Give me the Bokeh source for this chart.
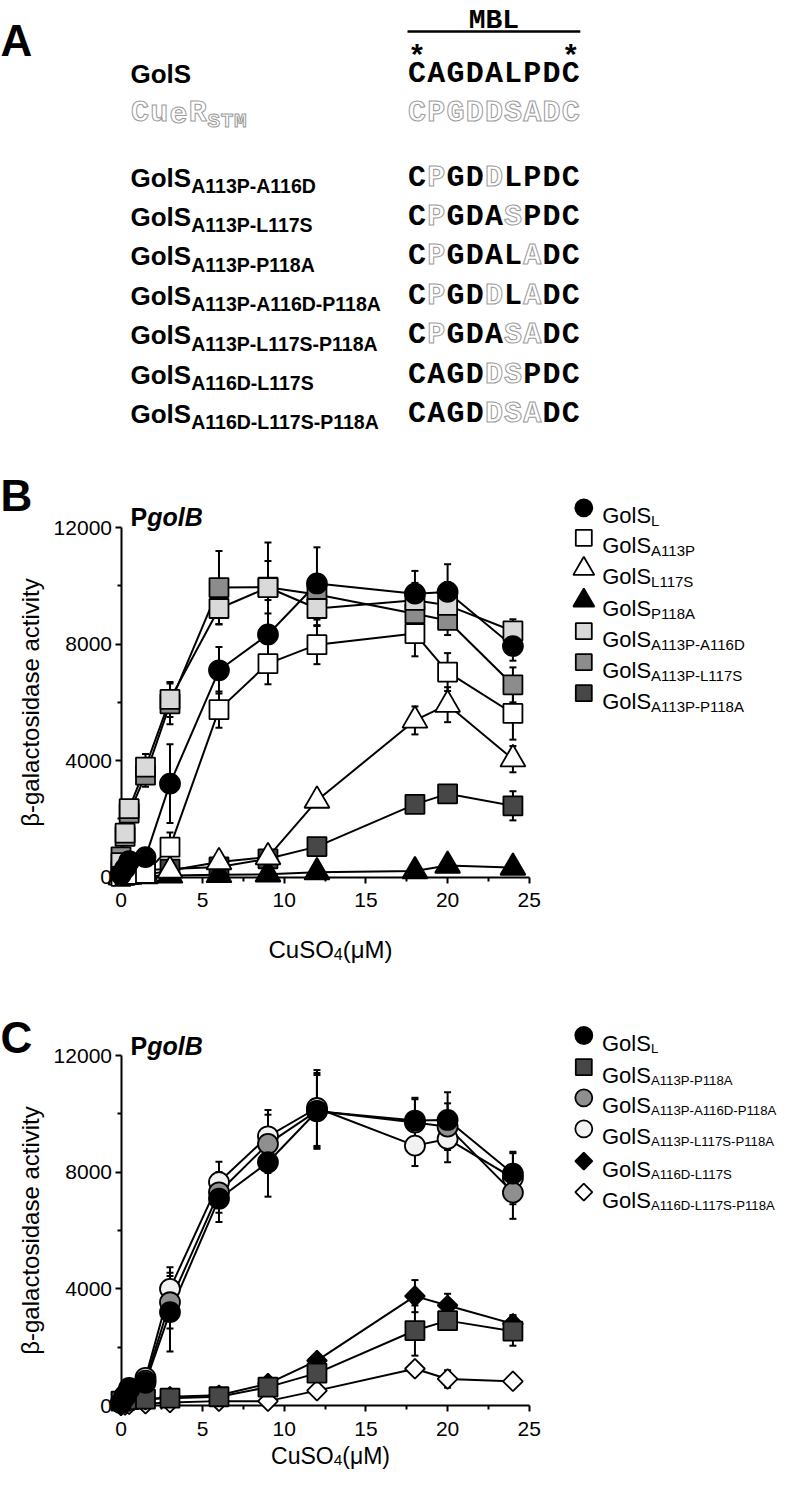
import math
from bokeh.plotting import figure
from bokeh.models import Range1d, FixedTicker, LinearAxis
from bokeh.core.properties import value
from bokeh.embed import file_html
from bokeh.resources import INLINE

SANS = "Liberation Sans"
MONO = "Liberation Mono"

# ---------------- data: panel A ----------------
mbl_label = "MBL"
gols_name = "GolS"
gols_seq = "CAGDALPDC"
cuer_name = "CueR"
cuer_sub = "STM"
cuer_seq = "CPGDDSADC"
variant_subs = ["A113P-A116D", "A113P-L117S", "A113P-P118A", "A113P-A116D-P118A",
                "A113P-L117S-P118A", "A116D-L117S", "A116D-L117S-P118A"]
variant_seqs = ["CPGDDLPDC", "CPGDASPDC", "CPGDALADC", "CPGDDLADC",
                "CPGDASADC", "CAGDDSPDC", "CAGDDSADC"]

# ---------------- data: panels B and C ----------------
cu = [0, 0.25, 0.5, 1.5, 3, 6, 9, 12, 18, 20, 24]
x_ticks = [0, 5, 10, 15, 20, 25]
x_minor = [2.5, 7.5, 12.5, 17.5, 22.5]
y_ticks = [0, 4000, 8000, 12000]
y_minor = [2000, 6000, 10000]

b_L = [100, 300, 550, 690, 3210, 7100, 8330, 10080, 9730, 9790, 7930]
b_L_err = [60, 100, 150, 150, 1350, 800, 1180, 1240, 780, 950, 500]
b_A113P = [30, 60, 100, 130, 1030, 5750, 7330, 7980, 8360, 7040, 5620]
b_A113P_err = [20, 30, 50, 60, 500, 620, 710, 670, 780, 650, 900]
b_L117S = [0, 20, 50, 80, 230, 520, 690, 2630, 5380, 5920, 4050]
b_L117S_err = [10, 10, 20, 30, 60, 80, 100, 120, 480, 600, 450]
b_P118A = [0, 10, 20, 40, 60, 80, 100, 170, 210, 400, 330]
b_P118A_err = [10, 10, 10, 20, 20, 30, 30, 40, 50, 60, 50]
b_A113P_A116D = [500, 1510, 2350, 3780, 6100, 9220, 9940, 9220, 9500, 9330, 8450]
b_A113P_A116D_err = [100, 200, 250, 450, 600, 550, 1545, 600, 600, 800, 400]
b_A113P_L117S = [700, 1400, 2200, 3500, 5950, 9940, 9950, 9700, 9040, 8810, 6600]
b_A113P_L117S_err = [100, 200, 250, 400, 700, 1250, 900, 700, 500, 500, 600]
b_A113P_P118A = [200, 250, 300, 250, 280, 350, 630, 1050, 2500, 2860, 2450]
b_A113P_P118A_err = [50, 50, 50, 50, 60, 80, 100, 150, 200, 200, 500]

c_L = [100, 300, 550, 780, 3200, 7090, 8340, 10090, 9770, 9790, 7950]
c_L_err = [60, 100, 150, 150, 1350, 800, 1180, 1240, 780, 950, 700]
c_A113P_P118A = [150, 180, 200, 220, 250, 300, 630, 1110, 2570, 2910, 2550]
c_A113P_P118A_err = [50, 50, 50, 50, 60, 80, 100, 150, 860, 200, 500]
c_A113P_A116D_P118A = [80, 300, 550, 850, 3540, 7310, 8970, 10100, 9700, 9560, 7300]
c_A113P_A116D_P118A_err = [50, 80, 100, 120, 900, 700, 1000, 1300, 800, 800, 900]
c_A113P_L117S_P118A = [100, 350, 600, 950, 4000, 7660, 9230, 10200, 8910, 9140, 7800]
c_A113P_L117S_P118A_err = [50, 80, 100, 120, 740, 700, 900, 1300, 700, 800, 900]
c_A116D_L117S = [50, 100, 150, 200, 300, 350, 750, 1540, 3750, 3430, 2800]
c_A116D_L117S_err = [30, 30, 40, 50, 80, 80, 120, 150, 550, 400, 300]
c_A116D_L117S_P118A = [0, 20, 40, 60, 100, 150, 150, 510, 1260, 910, 830]
c_A116D_L117S_P118A_err = [10, 10, 20, 20, 30, 40, 50, 80, 150, 300, 100]

# ---------------- styling / layout constants (figure pixels) ----------------
W, H = 784, 1470
LIGHT = "#d9d9d9"
MID = "#8c8c8c"
DARK = "#474747"
PALE = "#f2f2f2"
GRAYC = "#8f8f8f"
OUT = "#9a9a9a"
D45 = math.pi / 4

X0, SXP = 120.5, 16.33           # pixel of x=0 and pixels per uM (both panels)
PANEL_Y = {"b": (876.7, 527.0), "c": (1405.0, 1055.0)}   # pixel of y=0 and y=12000

fig = figure(width=W, height=H, x_range=Range1d(0, W), y_range=Range1d(H, 0),
             output_backend="svg", toolbar_location=None,
             x_axis_location=None, y_axis_location=None, min_border=0,
             outline_line_color=None)
fig.grid.visible = False

xr, yr = {}, {}
for key, (y0, y12) in PANEL_Y.items():
    syp = (y0 - y12) / 12000.0
    xr["x" + key] = Range1d(-X0 / SXP, (W - X0) / SXP)
    yr["y" + key] = Range1d(-(H - y0) / syp, y0 / syp)
fig.extra_x_ranges = xr
fig.extra_y_ranges = yr


def txt(x, y, s, size, color="black", font=SANS, style="normal",
        align="left", baseline="alphabetic", outline=None, angle=0):
    kw = {}
    if outline is not None:
        kw["text_outline_color"] = outline
    fig.text(x=[x], y=[y], text=[s], text_font=value(font), text_font_size=f"{size}px",
             text_font_style=style, text_color=color, text_align=align,
             text_baseline=baseline, angle=angle, **kw)


# ================= Panel A =================
txt(0, 40, "A", 44, style="bold")

lab_x = 130
seq_x0 = 407
pitch = 19.2
seq_size = 30

txt(seq_x0 + 4.5 * pitch, 19.5, mbl_label, 28, font=MONO, style="bold", align="center")
fig.segment(x0=[seq_x0], y0=[31], x1=[seq_x0 + 9 * pitch], y1=[31],
            line_width=2.5, line_color="black")
for i in (0, len(gols_seq) - 1):
    txt(seq_x0 + (i + 0.5) * pitch, 57, "*", 30, font=MONO, style="bold", align="center")


def draw_seq(seq, base_y, all_outline=False):
    for i, ch in enumerate(seq):
        cx = seq_x0 + (i + 0.5) * pitch
        if all_outline or ch != gols_seq[i]:
            txt(cx, base_y, ch, seq_size, color="white", font=MONO, style="bold",
                align="center", outline=OUT)
        else:
            txt(cx, base_y, ch, seq_size, color="black", font=MONO, style="bold",
                align="center")


gols_w = 2.334 * 26
by = 73
txt(lab_x, by, gols_name, 26, style="bold")
draw_seq(gols_seq, by)
by = 112
for i, ch in enumerate(cuer_name):
    txt(lab_x + (i + 0.5) * 19.2, by, ch, 30, color="white", font=MONO, style="bold",
        align="center", outline=OUT)
for i, ch in enumerate(cuer_sub):
    txt(lab_x + 4 * 19.2 + (i + 0.5) * 13.2, by + 8.5, ch, 21, color="white", font=MONO,
        style="bold", align="center", outline=OUT)
draw_seq(cuer_seq, by, all_outline=True)
for k, (sub, seq) in enumerate(zip(variant_subs, variant_seqs)):
    by = 177 + 39.4 * k
    txt(lab_x, by, gols_name, 26, style="bold")
    txt(lab_x + gols_w, by + 8.5, sub, 19.5, style="bold")
    draw_seq(seq, by)


# ================= Panels B and C =================
def make_panel(key, series, letter, letter_base, title_base, ytitle_mid, xtitle_base,
               xtitle_size):
    xn, yn = "x" + key, "y" + key
    xa = LinearAxis(x_range_name=xn, y_range_name=yn, fixed_location=0, bounds=(-0.5, 25),
                    ticker=FixedTicker(ticks=x_ticks, minor_ticks=x_minor))
    ya = LinearAxis(x_range_name=xn, y_range_name=yn, fixed_location=0, bounds=(0, 12000),
                    ticker=FixedTicker(ticks=y_ticks, minor_ticks=y_minor))
    for ax in (xa, ya):
        ax.axis_line_width = 2
        ax.major_tick_line_width = 2
        ax.minor_tick_line_width = 2
        ax.major_tick_in = 0
        ax.major_tick_out = 6
        ax.minor_tick_in = 0
        ax.minor_tick_out = 4
        ax.major_label_text_font = SANS
        ax.major_label_text_font_size = "21px"
        ax.major_label_text_color = "black"
        ax.level = "underlay"
    xa.major_label_standoff = 10
    ya.major_label_standoff = 3
    fig.add_layout(xa, "below")
    fig.add_layout(ya, "left")

    rk = dict(x_range_name=xn, y_range_name=yn)
    for ys, errs, marker, fill, size, angle in series:
        lo = [a - e for a, e in zip(ys, errs)]
        hi = [a + e for a, e in zip(ys, errs)]
        fig.segment(x0=cu, y0=lo, x1=cu, y1=hi, line_width=2, line_color="black", **rk)
        fig.scatter(x=cu, y=hi, marker="dash", size=7, line_width=2, line_color="black", **rk)
        fig.scatter(x=cu, y=lo, marker="dash", size=7, line_width=2, line_color="black", **rk)
    for ys, errs, marker, fill, size, angle in series:
        fig.line(x=cu, y=ys, line_width=2, line_color="black", **rk)
    for ys, errs, marker, fill, size, angle in series:
        fig.scatter(x=cu, y=ys, marker=marker, size=size, angle=angle, fill_color=fill,
                    line_color="black", line_width=1.8, **rk)

    txt(0, letter_base, letter, 44, style="bold")
    txt(130, title_base, "P", 25, style="bold")
    txt(130 + 0.667 * 25, title_base, "golB", 25, style="bold italic")
    txt(30, ytitle_mid, "β-galactosidase activity", 24, align="center",
        baseline="middle", angle=math.pi / 2)
    s = xtitle_size
    w1 = 2.723 * s
    w2 = 0.556 * s * 0.67
    x0 = 330 - (w1 + w2 + 2.075 * s) / 2
    txt(x0, xtitle_base, "CuSO", s)
    txt(x0 + w1, xtitle_base + 0.2 * s, "4", round(s * 0.67, 1))
    txt(x0 + w1 + w2, xtitle_base, "(μM)", s)


def legend(rows_y, items, mx, tx, sub_size):
    for y, (sub, marker, fill, size, angle) in zip(rows_y, items):
        fig.scatter(x=[mx], y=[y], marker=marker, size=size, angle=angle, fill_color=fill,
                    line_color="black", line_width=1.8)
        txt(tx, y + 8, "GolS", 22)
        txt(tx + 48.9, y + 13, sub, sub_size)


series_b = [
    (b_A113P_P118A, b_A113P_P118A_err, "square", DARK, 19, 0),
    (b_P118A, b_P118A_err, "triangle", "black", 25, 0),
    (b_L117S, b_L117S_err, "triangle", "white", 25, 0),
    (b_A113P_L117S, b_A113P_L117S_err, "square", MID, 19, 0),
    (b_A113P_A116D, b_A113P_A116D_err, "square", LIGHT, 19, 0),
    (b_A113P, b_A113P_err, "square", "white", 19, 0),
    (b_L, b_L_err, "circle", "black", 20, 0),
]
series_c = [
    (c_A116D_L117S_P118A, c_A116D_L117S_P118A_err, "square", "white", 14, D45),
    (c_A116D_L117S, c_A116D_L117S_err, "square", "black", 14, D45),
    (c_A113P_P118A, c_A113P_P118A_err, "square", DARK, 19, 0),
    (c_A113P_L117S_P118A, c_A113P_L117S_P118A_err, "circle", PALE, 20, 0),
    (c_A113P_A116D_P118A, c_A113P_A116D_P118A_err, "circle", GRAYC, 20, 0),
    (c_L, c_L_err, "circle", "black", 20, 0),
]

make_panel("b", series_b, "B", 495, 516, 702, 948.6, 24)
make_panel("c", series_c, "C", 1037, 1045, 1230, 1455, 23)

leg_b_items = [
    ("L", "circle", "black", 17, 0),
    ("A113P", "square", "white", 16, 0),
    ("L117S", "triangle", "white", 21, 0),
    ("P118A", "triangle", "black", 21, 0),
    ("A113P-A116D", "square", LIGHT, 16, 0),
    ("A113P-L117S", "square", MID, 16, 0),
    ("A113P-P118A", "square", DARK, 16, 0),
]
leg_b_rows = [507.3, 537.3, 568.3, 600.0, 630.7, 661.7, 692.7]
leg_c_items = [
    ("L", "circle", "black", 17, 0),
    ("A113P-P118A", "square", DARK, 16, 0),
    ("A113P-A116D-P118A", "circle", GRAYC, 17, 0),
    ("A113P-L117S-P118A", "circle", PALE, 17, 0),
    ("A116D-L117S", "square", "black", 12, D45),
    ("A116D-L117S-P118A", "square", "white", 12, D45),
]
leg_c_rows = [1035.0, 1066.7, 1097.3, 1128.3, 1160.7, 1191.7]

legend(leg_b_rows, leg_b_items, 583.3, 601.7, 15)
legend(leg_c_rows, leg_c_items, 583.3, 601.5, 13.2)

open("out.html", "w").write(file_html(fig, INLINE))
